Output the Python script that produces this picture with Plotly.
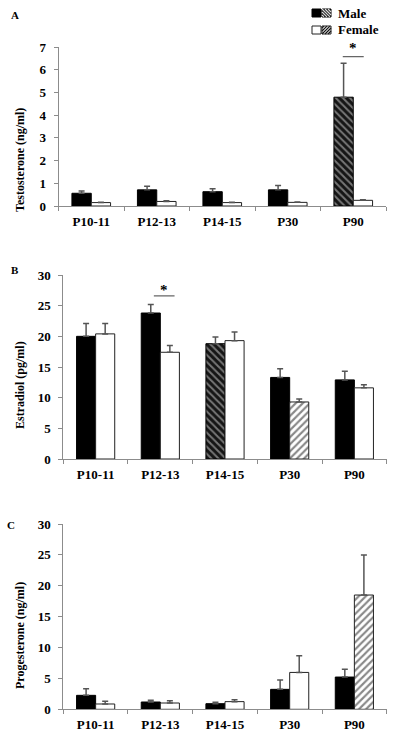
import plotly.graph_objects as go

# ---------------- data ----------------
categories = ["P10-11", "P12-13", "P14-15", "P30", "P90"]

testo_male = [0.56, 0.71, 0.63, 0.71, 4.79]
testo_male_err = [0.10, 0.16, 0.13, 0.19, 1.49]
testo_female = [0.15, 0.20, 0.15, 0.16, 0.25]
testo_female_err = [0.02, 0.03, 0.01, 0.02, 0.03]

estr_male = [20.0, 23.8, 18.8, 13.3, 12.9]
estr_male_err = [2.1, 1.4, 1.1, 1.4, 1.4]
estr_female = [20.4, 17.4, 19.3, 9.3, 11.6]
estr_female_err = [1.7, 1.1, 1.4, 0.5, 0.5]

prog_male = [2.26, 1.18, 0.91, 3.23, 5.22]
prog_male_err = [1.07, 0.27, 0.22, 1.50, 1.28]
prog_female = [0.86, 1.02, 1.24, 5.97, 18.5]
prog_female_err = [0.43, 0.38, 0.32, 2.69, 6.5]

# which bars are hatched (significant effect)
testo_male_hatch = [False, False, False, False, True]
testo_female_hatch = [False, False, False, False, False]
estr_male_hatch = [False, False, True, False, False]
estr_female_hatch = [False, False, False, True, False]
prog_male_hatch = [False, False, False, False, False]
prog_female_hatch = [False, False, False, False, True]

W, H = 400, 751
FONT = "Liberation Serif"
AX = "#8c8c8c"
ERR = "#555555"


def px(x):
    return x / W


def py(y):
    return 1 - y / H


def male_marker(hatch):
    return dict(
        color="black",
        line=dict(color="black", width=1),
        pattern=dict(
            shape=["\\" if h else "" for h in hatch],
            bgcolor="#151515",
            fgcolor="#d8d8d8",
            size=5,
            solidity=0.4,
        ),
    )


def female_marker(hatch):
    return dict(
        color="white",
        line=dict(color="#222222", width=1),
        pattern=dict(
            shape=["/" if h else "" for h in hatch],
            bgcolor="white",
            fgcolor="#111111",
            size=5,
            solidity=0.42,
        ),
    )


def err(arr):
    return dict(type="data", array=arr, arrayminus=[0] * len(arr), symmetric=False,
                color=ERR, thickness=1.5, width=3)


fig = go.Figure()

panels = [
    ("", testo_male, testo_male_err, testo_female, testo_female_err, testo_male_hatch, testo_female_hatch),
    ("2", estr_male, estr_male_err, estr_female, estr_female_err, estr_male_hatch, estr_female_hatch),
    ("3", prog_male, prog_male_err, prog_female, prog_female_err, prog_male_hatch, prog_female_hatch),
]

for suf, m, me, f, fe, mh, fh in panels:
    fig.add_trace(go.Bar(x=categories, y=m, error_y=err(me), marker=male_marker(mh),
                         xaxis="x" + suf, yaxis="y" + suf, showlegend=False))
    fig.add_trace(go.Bar(x=categories, y=f, error_y=err(fe), marker=female_marker(fh),
                         xaxis="x" + suf, yaxis="y" + suf, showlegend=False))

tickfont = dict(family=FONT, size=13, color="black", weight="bold")


def xax(domain, anchor):
    return dict(domain=domain, anchor=anchor, type="category", showline=True, linecolor=AX,
                linewidth=1, ticks="outside", tickson="boundaries", ticklen=4, tickcolor=AX,
                tickfont=tickfont, showgrid=False, zeroline=False, fixedrange=True,
                range=[-0.5, 4.5], ticklabelstandoff=3, automargin=False)


def yax(domain, anchor, rng, dtick):
    return dict(domain=domain, anchor=anchor, range=rng, dtick=dtick, showline=True,
                linecolor=AX, linewidth=1, ticks="outside", ticklen=4, tickcolor=AX,
                tickfont=tickfont, showgrid=False, zeroline=False, ticklabelstandoff=5,
                automargin=False)


A_x = [px(58.5), px(386)]
B_x = [px(63.3), px(386.7)]
A_y = [py(206), py(47)]
B_y = [py(459), py(275)]
C_y = [py(709.3), py(524)]

fig.update_layout(
    width=W, height=H,
    autosize=False,
    margin=dict(l=0, r=0, t=0, b=0, pad=0, autoexpand=False),
    paper_bgcolor="white", plot_bgcolor="white",
    barmode="group", bargap=0.41, bargroupgap=0,
    xaxis=xax(A_x, "y"),
    yaxis=yax(A_y, "x", [0, 7], 1),
    xaxis2=xax(B_x, "y2"),
    yaxis2=yax(B_y, "x2", [0, 30], 5),
    xaxis3=xax(B_x, "y3"),
    yaxis3=yax(C_y, "x3", [0, 30], 5),
    showlegend=False,
    hovermode=False,
)

ann = []
titles = [("Testosterone (ng/ml)", 160), ("Estradiol (pg/ml)", 385), ("Progesterone (ng/ml)", 636)]
for t, yc in titles:
    ann.append(dict(text=t, x=px(20), y=py(yc), xref="paper", yref="paper",
                    textangle=-90, showarrow=False, xanchor="center", yanchor="middle",
                    font=dict(family=FONT, size=12, color="black", weight="bold")))

for letter, x0, y0 in [("A", 15, 15), ("B", 15, 270), ("C", 11, 525)]:
    ann.append(dict(text=letter, x=px(x0), y=py(y0), xref="paper", yref="paper",
                    showarrow=False, xanchor="center", yanchor="middle",
                    font=dict(family=FONT, size=11, color="black", weight="bold")))

# significance markers
ann.append(dict(text="*", x=4.0, y=6.95, xref="x", yref="y", showarrow=False,
                xanchor="center", yanchor="middle",
                font=dict(family=FONT, size=15, color="black", weight="bold")))
ann.append(dict(text="*", x=1.05, y=27.6, xref="x2", yref="y2", showarrow=False,
                xanchor="center", yanchor="middle",
                font=dict(family=FONT, size=15, color="black", weight="bold")))

shapes = [
    dict(type="line", xref="x", yref="y", x0=3.84, x1=4.16, y0=6.58, y1=6.58,
         line=dict(color="#666666", width=1.2)),
    dict(type="line", xref="x2", yref="y2", x0=0.9, x1=1.22, y0=26.6, y1=26.6,
         line=dict(color="#666666", width=1.2)),
]


# legend (drawn manually)
def hatch_lines(x0, y0, x1, y1, direction, step, color):
    out = []
    s = x1 - x0
    k = -s
    while k < s:
        if direction == "\\":
            ax_, ay_, bx_, by_ = x0, y0 + k, x1, y0 + s + k
        else:
            ax_, ay_, bx_, by_ = x0, y1 - k, x1, y1 - s - k
        seg = []
        n = 60
        for i in range(n + 1):
            xx = ax_ + (bx_ - ax_) * i / n
            yy = ay_ + (by_ - ay_) * i / n
            if y0 <= yy <= y1:
                seg.append((xx, yy))
        if len(seg) >= 2:
            out.append(dict(type="line", xref="paper", yref="paper",
                            x0=px(seg[0][0]), y0=py(seg[0][1]),
                            x1=px(seg[-1][0]), y1=py(seg[-1][1]),
                            line=dict(color=color, width=1.2)))
        k += step
    return out


# Male row
shapes.append(dict(type="rect", xref="paper", yref="paper", x0=px(312), x1=px(321),
                   y0=py(17), y1=py(9), fillcolor="black", line=dict(color="black", width=1)))
shapes.append(dict(type="rect", xref="paper", yref="paper", x0=px(322), x1=px(331),
                   y0=py(17), y1=py(9), fillcolor="#151515", line=dict(color="black", width=1)))
shapes += hatch_lines(322, 9, 331, 17, "\\", 3, "#d8d8d8")
# Female row
shapes.append(dict(type="rect", xref="paper", yref="paper", x0=px(312), x1=px(321),
                   y0=py(34), y1=py(26), fillcolor="white", line=dict(color="#222", width=1)))
shapes += hatch_lines(322, 26, 331, 34, "/", 3, "#111111")
shapes.append(dict(type="rect", xref="paper", yref="paper", x0=px(322), x1=px(331),
                   y0=py(34), y1=py(26), fillcolor="rgba(0,0,0,0)", line=dict(color="#222", width=1)))

ann.append(dict(text="Male", x=px(336), y=py(13.5), xref="paper", yref="paper",
                showarrow=False, xanchor="left", yanchor="middle",
                font=dict(family=FONT, size=13, color="black", weight="bold")))
ann.append(dict(text="Female", x=px(336), y=py(30), xref="paper", yref="paper",
                showarrow=False, xanchor="left", yanchor="middle",
                font=dict(family=FONT, size=13, color="black", weight="bold")))

fig.update_layout(annotations=ann, shapes=shapes)

# remove the browser's default 8px page margin so the figure sits at (0, 0)
fig.write_html("out.html",
               config={"displayModeBar": False, "staticPlot": True},
               post_script="document.body.style.margin='0';document.body.style.padding='0';")
